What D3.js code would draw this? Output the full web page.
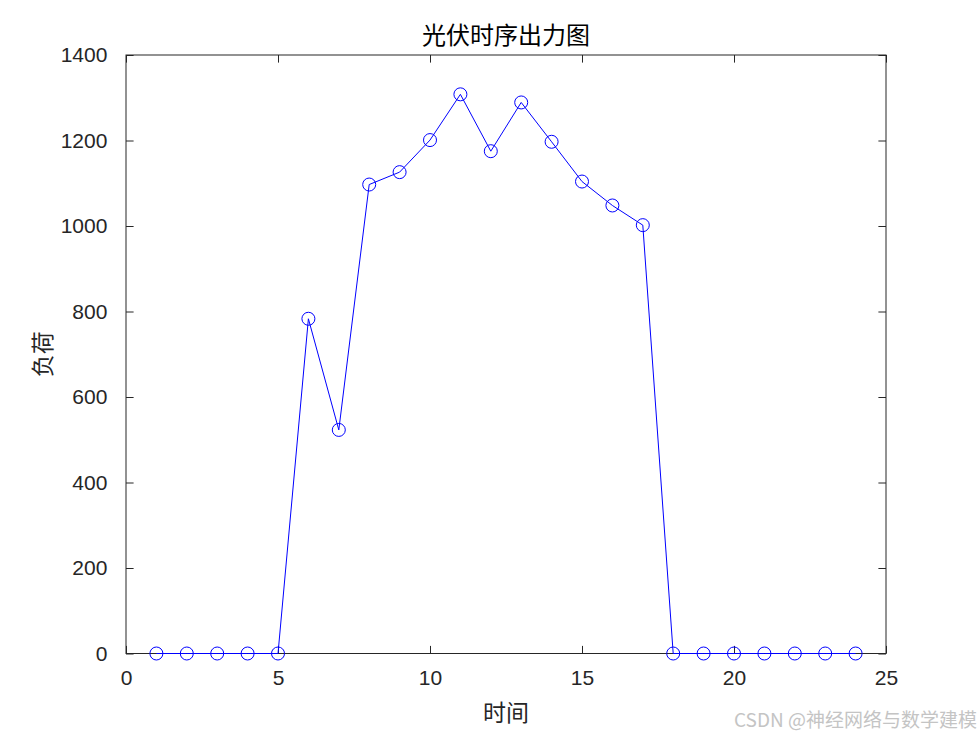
<!DOCTYPE html>
<html><head><meta charset="utf-8">
<script src="https://cdn.jsdelivr.net/npm/d3@7"></script>
<style>body{margin:0;background:#fff}svg{display:block}</style>
</head><body>
<svg id="c" width="980" height="735"></svg>
<script>
const hours = [1,2,3,4,5,6,7,8,9,10,11,12,13,14,15,16,17,18,19,20,21,22,23,24];
const pvOutput = [0,0,0,0,0,783,523,1097,1126,1201,1308,1175,1289,1197,1104,1048,1002,0,0,0,0,0,0,0];
const xTicks = [0,5,10,15,20,25];
const yTicks = [0,200,400,600,800,1000,1200,1400];
const titleText = "光伏时序出力图";
const xLabel = "时间";
const yLabel = "负荷";
const watermark = "CSDN @神经网络与数学建模";

const svg = d3.select("#c");
const L = 126, R = 886, T = 55, B = 653.5;
const x = d3.scaleLinear().domain([0,25]).range([L,R]);
const y = d3.scaleLinear().domain([0,1400]).range([B,T]);
const axCol = "#262626";
const tickFont = "'Liberation Sans', Arial, sans-serif";
const cjkFont = "'Noto Sans CJK SC', sans-serif";
const fmt = d3.format("d");

svg.append("rect").attr("x",L).attr("y",T).attr("width",R-L).attr("height",B-T)
  .attr("fill","none").attr("stroke",axCol).attr("stroke-width",1);

const tl = 7.6;
const gxb = svg.append("g").attr("transform",`translate(0,${B})`)
  .call(d3.axisBottom(x).tickValues(xTicks).tickFormat(fmt).tickSizeInner(-tl).tickSizeOuter(0).tickPadding(tl+9));
const gxt = svg.append("g").attr("transform",`translate(0,${T})`)
  .call(d3.axisTop(x).tickValues(xTicks).tickSizeInner(-tl).tickSizeOuter(0).tickFormat(""));
const gyl = svg.append("g").attr("transform",`translate(${L},0)`)
  .call(d3.axisLeft(y).tickValues(yTicks).tickFormat(fmt).tickSizeInner(-tl).tickSizeOuter(0).tickPadding(tl+11));
const gyr = svg.append("g").attr("transform",`translate(${R},0)`)
  .call(d3.axisRight(y).tickValues(yTicks).tickSizeInner(-tl).tickSizeOuter(0).tickFormat(""));
[gxb,gxt,gyl,gyr].forEach(a=>{
  a.attr("font-size",null).attr("font-family",null);
  a.select(".domain").remove();
  a.selectAll("line").attr("stroke",axCol);
  a.selectAll("text").attr("fill","#262626").style("font-family",tickFont).style("font-size","21px");
});

const line = d3.line().x((d,i)=>x(hours[i])).y(d=>y(d));
svg.append("path").datum(pvOutput).attr("d",line).attr("fill","none")
  .attr("stroke","#0000ff").attr("stroke-width",1);
svg.append("g").selectAll("circle").data(pvOutput).join("circle")
  .attr("cx",(d,i)=>x(hours[i])).attr("cy",d=>y(d)).attr("r",6.5)
  .attr("fill","none").attr("stroke","#0000ff").attr("stroke-width",1);

svg.append("text").attr("x",(L+R)/2).attr("y",36).attr("dy","0.35em").attr("text-anchor","middle")
  .style("font-family",cjkFont).style("font-size","24px").attr("fill","#000").text(titleText);
svg.append("text").attr("x",(L+R)/2).attr("y",713).attr("dy","0.35em").attr("text-anchor","middle")
  .style("font-family",cjkFont).style("font-size","23px").attr("fill","#262626").text(xLabel);
svg.append("text").attr("transform",`translate(43,${(T+B)/2}) rotate(-90)`).attr("dy","0.35em").attr("text-anchor","middle")
  .style("font-family",cjkFont).style("font-size","23px").attr("fill","#262626").text(yLabel);
svg.append("text").attr("x",977).attr("y",720).attr("dy","0.35em").attr("text-anchor","end")
  .style("font-family",cjkFont).style("font-size","19px").attr("fill","#c4c4c4").text(watermark);
</script>
</body></html>
